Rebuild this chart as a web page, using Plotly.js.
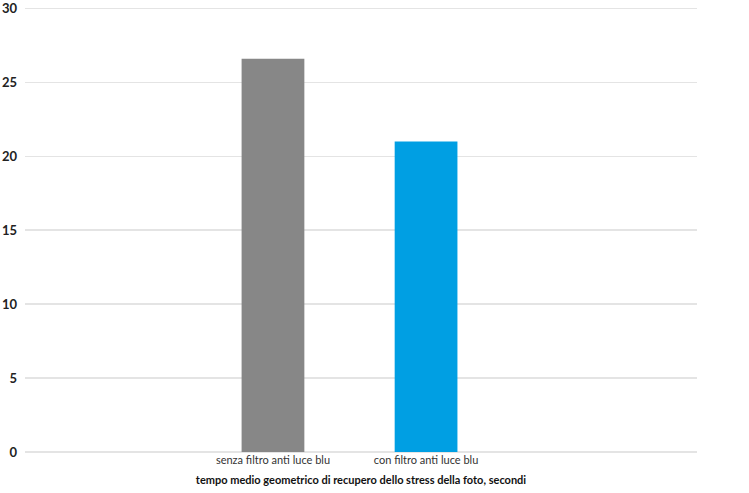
<!DOCTYPE html>
<html>
<head>
<meta charset="utf-8">
<script src="https://cdn.plot.ly/plotly-3.0.1.min.js"></script>
<style>
  html, body { margin: 0; padding: 0; background: #fff; }
  #chart { width: 749px; height: 493px; }
</style>
</head>
<body>
<div id="chart"></div>
<script>
// values
var categories = ['senza filtro anti luce blu', 'con filtro anti luce blu'];
var tempo = [26.6, 21.0];
var barColors = ['#878787', '#009fe3'];
var yTicks = [0, 5, 10, 15, 20, 25, 30];

var trace = {
  x: categories,
  y: tempo,
  type: 'bar',
  width: 0.41,
  marker: { color: barColors },
  hoverinfo: 'x+y'
};

var layout = {
  width: 749,
  height: 493,
  margin: { l: 25, r: 52, t: 4, b: 41 },
  paper_bgcolor: '#ffffff',
  plot_bgcolor: '#ffffff',
  showlegend: false,
  font: { family: 'Lato, "Open Sans", sans-serif', color: '#222' },
  xaxis: {
    range: [-1.62, 2.77],
    showgrid: false,
    showline: false,
    ticks: '',
    tickfont: { size: 11, color: '#333' },
    title: {
      text: '<b>tempo medio geometrico di recupero dello stress della foto, secondi</b>',
      font: { size: 11, color: '#111' },
      standoff: 11
    }
  },
  yaxis: {
    range: [0, 30.3],
    tickvals: yTicks,
    ticktext: yTicks.map(function (v) { return '<b>' + v + '</b>'; }),
    tickfont: { size: 13, color: '#222' },
    ticklabelstandoff: 7,
    ticklabeloverflow: 'allow',
    showgrid: true,
    gridcolor: '#e4e4e4',
    gridwidth: 1.5,
    zeroline: true,
    zerolinecolor: '#e4e4e4',
    zerolinewidth: 1.5,
    showline: false,
    ticks: ''
  }
};

Plotly.newPlot('chart', [trace], layout, { displayModeBar: false, staticPlot: true });
</script>
</body>
</html>
